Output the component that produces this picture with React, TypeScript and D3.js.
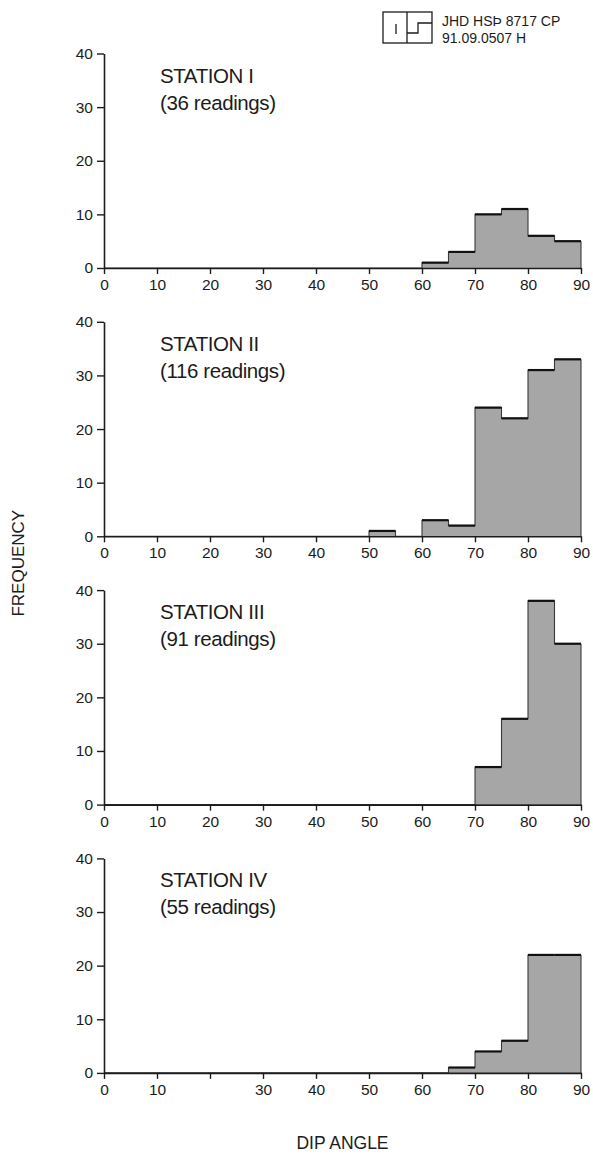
import React, { useEffect, useRef } from "react";
import * as d3 from "d3";

// Dip-angle bins (left edges, 5° wide)
const binEdges = [0, 5, 10, 15, 20, 25, 30, 35, 40, 45, 50, 55, 60, 65, 70, 75, 80, 85];
const binWidth = 5;

// Frequencies per bin for each station
const station1 = [0, 0, 0, 0, 0, 0, 0, 0, 0, 0, 0, 0, 1, 3, 10, 11, 6, 5];
const station2 = [0, 0, 0, 0, 0, 0, 0, 0, 0, 0, 1, 0, 3, 2, 24, 22, 31, 33];
const station3 = [0, 0, 0, 0, 0, 0, 0, 0, 0, 0, 0, 0, 0, 0, 7, 16, 38, 30];
const station4 = [0, 0, 0, 0, 0, 0, 0, 0, 0, 0, 0, 0, 0, 1, 4, 6, 22, 22];

const stationNames = ["STATION I", "STATION II", "STATION III", "STATION IV"];
const readingCounts = ["(36 readings)", "(116 readings)", "(91 readings)", "(55 readings)"];
const stationSeries = [station1, station2, station3, station4];

const xTicks = [0, 10, 20, 30, 40, 50, 60, 70, 80, 90];
const yTicks = [0, 10, 20, 30, 40];
// The last panel's axis leaves the "20" label off
const hiddenXLabels = [[], [], [], [20]];

const W = 593;
const H = 1156;
const FONT = "'Liberation Sans', Arial, Helvetica, sans-serif";
const INK = "#1c1c1c";
const FILL = "#a6a6a6";

export default function App() {
  const ref = useRef<SVGSVGElement | null>(null);

  useEffect(() => {
    const svg = d3.select(ref.current);
    svg.selectAll("*").remove();

    const x = d3.scaleLinear().domain([0, 90]).range([104, 581]);
    const panelTop0 = 53.5;
    const panelStep = 268.3;
    const panelH = 214.5;

    stationSeries.forEach((series, i) => {
      const top = panelTop0 + i * panelStep;
      const y = d3.scaleLinear().domain([0, 40]).range([top + panelH, top]);
      const g = svg.append("g");

      const bins = binEdges.map((b, k) => ({ x0: b, x1: b + binWidth, v: series[k] }));
      // step points: each bin's left edge plus the closing right edge
      const steps: [number, number][] = bins.map((d) => [d.x0, d.v]);
      const last = bins[bins.length - 1];
      steps.push([last.x1, last.v]);

      // histogram body
      const area = d3
        .area<[number, number]>()
        .curve(d3.curveStepAfter)
        .x((d) => x(d[0]))
        .y0(y(0))
        .y1((d) => y(d[1]));
      g.append("path").attr("d", area(steps)).attr("fill", FILL);

      // thin stepped outline
      const outline = d3
        .line<[number, number]>()
        .curve(d3.curveStepAfter)
        .x((d) => x(d[0]))
        .y((d) => y(d[1]));
      g.append("path")
        .attr("d", outline(steps))
        .attr("fill", "none")
        .attr("stroke", "#3a3a3a")
        .attr("stroke-width", 1.1);
      g.append("line")
        .attr("x1", x(last.x1))
        .attr("x2", x(last.x1))
        .attr("y1", y(last.v))
        .attr("y2", y(0))
        .attr("stroke", "#3a3a3a")
        .attr("stroke-width", 1.1);

      // heavy top edges
      g.selectAll("line.top")
        .data(bins.filter((d) => d.v > 0))
        .join("line")
        .attr("class", "top")
        .attr("x1", (d) => x(d.x0))
        .attr("x2", (d) => x(d.x1))
        .attr("y1", (d) => y(d.v))
        .attr("y2", (d) => y(d.v))
        .attr("stroke", "#111")
        .attr("stroke-width", 2.2);

      // x axis
      const hide = hiddenXLabels[i];
      const xAxis = d3
        .axisBottom(x)
        .tickValues(xTicks)
        .tickSize(6)
        .tickSizeOuter(0)
        .tickPadding(5)
        .tickFormat((d) => (hide.includes(d as number) ? "" : String(d)));
      const xg = g.append("g").attr("transform", `translate(0,${y(0)})`).call(xAxis);
      xg.select(".domain").attr("stroke", INK).attr("stroke-width", 1.6);
      xg.selectAll(".tick line").attr("stroke", INK).attr("stroke-width", 1.4);
      xg.selectAll(".tick text")
        .attr("fill", INK)
        .style("font-family", FONT)
        .style("font-size", "15.5px");

      // y axis
      const yAxis = d3
        .axisLeft(y)
        .tickValues(yTicks)
        .tickSize(7)
        .tickSizeOuter(0)
        .tickPadding(4);
      const yg = g.append("g").attr("transform", `translate(${x(0)},0)`).call(yAxis);
      yg.select(".domain").attr("stroke", INK).attr("stroke-width", 1.6);
      yg.selectAll(".tick line").attr("stroke", INK).attr("stroke-width", 1.4);
      yg.selectAll(".tick text")
        .attr("fill", INK)
        .style("font-family", FONT)
        .style("font-size", "15.5px");

      // station caption
      g.append("text")
        .attr("x", x(0) + 56)
        .attr("y", top + 29)
        .attr("fill", INK)
        .style("font-family", FONT)
        .style("font-size", "20.5px")
        .style("letter-spacing", "-0.4px")
        .text(stationNames[i]);
      g.append("text")
        .attr("x", x(0) + 56)
        .attr("y", top + 56)
        .attr("fill", INK)
        .style("font-family", FONT)
        .style("font-size", "20.5px")
        .style("letter-spacing", "-0.4px")
        .text(readingCounts[i]);
    });

    // shared axis titles
    svg.append("text")
      .attr("transform", `translate(24,${(panelTop0 + panelTop0 + 3 * panelStep + panelH) / 2}) rotate(-90)`)
      .attr("text-anchor", "middle")
      .attr("fill", INK)
      .style("font-family", FONT)
      .style("font-size", "17px")
      .text("FREQUENCY");

    svg.append("text")
      .attr("x", (x(0) + x(90)) / 2)
      .attr("y", 1149)
      .attr("text-anchor", "middle")
      .attr("fill", INK)
      .style("font-family", FONT)
      .style("font-size", "17.5px")
      .text("DIP ANGLE");

    // catalogue stamp in the corner
    const stamp = svg.append("g").attr("fill", "none").attr("stroke", INK).attr("stroke-width", 1.3);
    stamp.append("rect").attr("x", 383).attr("y", 12).attr("width", 49).attr("height", 31);
    stamp.append("path").attr("d", "M407,12 V43");
    stamp.append("path").attr("d", "M396,24 V34");
    stamp.append("path").attr("d", "M432,23 H418 V33 H407");
    svg.append("text")
      .attr("x", 442)
      .attr("y", 26)
      .attr("fill", INK)
      .style("font-family", FONT)
      .style("font-size", "14px")
      .text("JHD HSÞ 8717 CP");
    svg.append("text")
      .attr("x", 442)
      .attr("y", 43)
      .attr("fill", INK)
      .style("font-family", FONT)
      .style("font-size", "14px")
      .text("91.09.0507 H");
  }, []);

  return (
    <svg
      ref={ref}
      width={W}
      height={H}
      viewBox={`0 0 ${W} ${H}`}
      style={{ display: "block", position: "absolute", left: 0, top: 0, background: "#fff" }}
    />
  );
}
